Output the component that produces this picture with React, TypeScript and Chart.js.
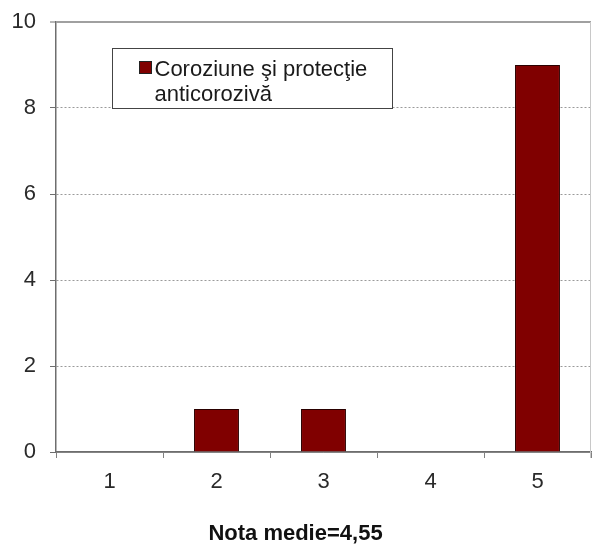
import React, { useEffect, useRef } from "react";
import { Chart, registerables } from "chart.js";

Chart.register(...registerables);

const categories = ["1", "2", "3", "4", "5"];
const values = [0, 1, 1, 0, 9];
const legendLines = ["Coroziune şi protecţie", "anticorozivă"];
const yMin = 0;
const yMax = 10;
const yStep = 2;
const bottomTitle = "Nota medie=4,55";

const FONT = "'Liberation Sans', Arial, sans-serif";
const BAR_COLOR = "#800000";

const legendPlugin = {
  id: "boxLegend",
  afterDraw(chart: any) {
    const ctx = chart.ctx;
    const area = chart.chartArea;
    const ds = chart.data.datasets[0];
    const x0 = area.left + 56.5;
    const y0 = area.top + 26.5;
    const w = 280;
    const h = 60;
    ctx.save();
    // right border line
    ctx.strokeStyle = "#c8c8c8";
    ctx.lineWidth = 1;
    ctx.beginPath();
    ctx.moveTo(area.right - 0.5, area.top);
    ctx.lineTo(area.right - 0.5, area.bottom + 6);
    ctx.stroke();
    // legend box
    ctx.fillStyle = "#ffffff";
    ctx.fillRect(x0, y0, w, h);
    ctx.strokeStyle = "#444444";
    ctx.strokeRect(x0, y0, w, h);
    // marker
    ctx.fillStyle = ds.backgroundColor;
    ctx.fillRect(x0 + 27, y0 + 13, 12, 12);
    ctx.strokeStyle = "#222";
    ctx.strokeRect(x0 + 27, y0 + 13, 12, 12);
    // text
    ctx.fillStyle = "#1a1a1a";
    ctx.font = `22px ${FONT}`;
    ctx.textBaseline = "middle";
    ctx.textAlign = "left";
    legendLines.forEach((line, i) => {
      ctx.fillText(line, x0 + 42, y0 + 21 + i * 25);
    });
    ctx.restore();
  },
};

export default function App() {
  const ref = useRef<HTMLCanvasElement | null>(null);

  useEffect(() => {
    if (!ref.current) return;
    const chart = new Chart(ref.current, {
      type: "bar",
      data: {
        labels: categories,
        datasets: [
          {
            label: legendLines.join(" "),
            data: values,
            backgroundColor: BAR_COLOR,
            borderColor: "#2a0000",
            borderWidth: 1,
            barPercentage: 0.42,
            categoryPercentage: 1,
          },
        ],
      },
      options: {
        responsive: false,
        animation: false,
        devicePixelRatio: 1,
        layout: { padding: { top: 22, right: 1, left: 0, bottom: 0 } },
        plugins: {
          legend: { display: false },
          tooltip: { enabled: false },
          title: {
            display: true,
            text: bottomTitle,
            position: "bottom",
            color: "#111",
            font: { family: FONT, size: 22, weight: "bold", lineHeight: 1.2 },
            padding: { top: 0, bottom: 0 },
          },
        },
        scales: {
          x: {
            grid: {
              display: true,
              offset: true,
              drawOnChartArea: false,
              tickLength: 6,
              color: "#808080",
            },
            border: { display: true, color: "#6e6e6e", width: 1.5 },
            ticks: {
              color: "#2a2a2a",
              padding: 11,
              font: { family: FONT, size: 22 },
            },
            afterFit(scale: any) {
              scale.height = 547 - 452 - 26.4;
              scale.paddingLeft = 0;
              scale.paddingRight = 0;
            },
          },
          y: {
            min: yMin,
            max: yMax,
            grid: {
              color: (c: any) => (c.tick && c.tick.value === yMax ? "#a0a0a0" : "#9a9a9a"),
              lineWidth: (c: any) => (c.tick && c.tick.value === yMax ? 2 : 1),
              tickLength: 6,
              tickColor: "#6e6e6e",
              tickWidth: 1,
            },
            border: {
              display: true,
              color: "#6e6e6e",
              width: 1.5,
              dash: (c: any) => (c.tick && (c.tick.value === yMax || c.tick.value === yMin) ? [] : [2, 2]),
            },
            ticks: {
              stepSize: yStep,
              color: "#2a2a2a",
              padding: 14,
              font: { family: FONT, size: 22 },
            },
            afterFit(scale: any) {
              scale.width = 56;
              scale.paddingTop = 0;
              scale.paddingBottom = 0;
            },
          },
        },
      },
      plugins: [legendPlugin],
    });
    return () => chart.destroy();
  }, []);

  return (
    <div style={{ position: "fixed", left: 0, top: 0, width: 592, height: 547, background: "#fff" }}>
      <canvas ref={ref} width={592} height={547} style={{ width: 592, height: 547 }} />
    </div>
  );
}
